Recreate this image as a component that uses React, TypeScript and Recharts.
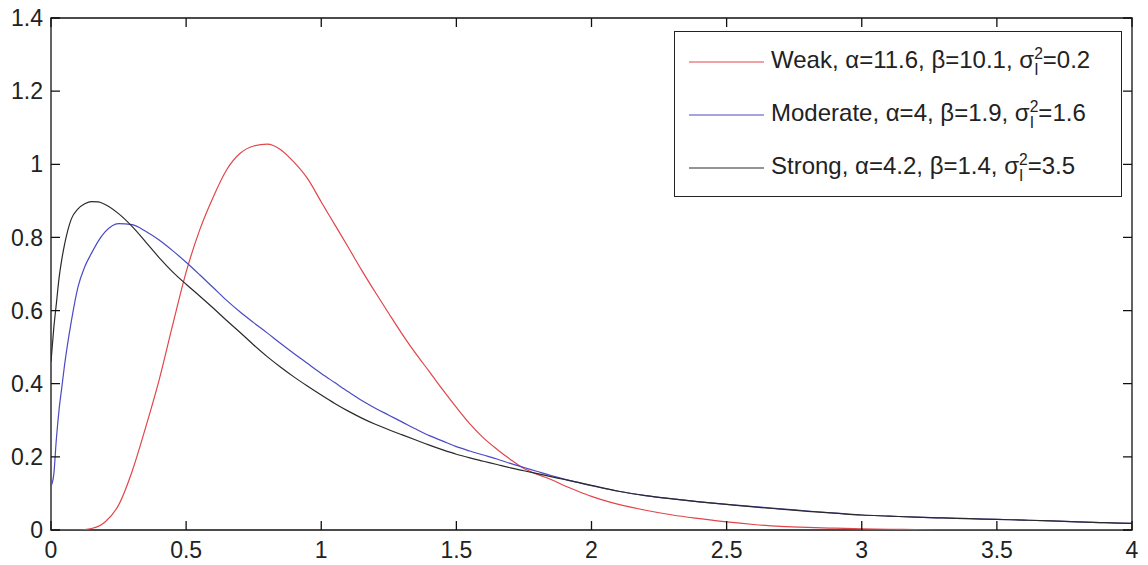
import { LineChart, Line, XAxis, YAxis, Legend, ReferenceArea } from 'recharts';

// x grid shared by all three curves
const xValues = [
  0, 0.01, 0.02, 0.03, 0.04, 0.05, 0.075, 0.1, 0.125, 0.15, 0.175, 0.2,
  0.25, 0.3, 0.35, 0.4, 0.45, 0.5, 0.55, 0.6, 0.65, 0.7,
  0.75, 0.8, 0.85, 0.9, 0.95, 1.0, 1.05, 1.1, 1.15, 1.2,
  1.25, 1.3, 1.35, 1.4, 1.45, 1.5, 1.55, 1.6, 1.65, 1.7,
  1.75, 1.8, 1.85, 1.9, 1.95, 2.0,
  2.1, 2.2, 2.3, 2.4, 2.5, 2.6, 2.7, 2.8, 2.9, 3.0,
  3.1, 3.2, 3.3, 3.4, 3.5, 3.6, 3.7, 3.8, 3.9, 4.0,
];

const weakValues = [
  0, 0, 0, 0, 0, 0, 0, 0, 0.001, 0.004, 0.01, 0.022,
  0.068, 0.16, 0.28, 0.41, 0.56, 0.705, 0.82, 0.91, 0.985, 1.03,
  1.05, 1.055, 1.04, 1.005, 0.96, 0.897, 0.835, 0.773, 0.71, 0.65,
  0.592, 0.535, 0.482, 0.433, 0.383, 0.335, 0.29, 0.252, 0.221, 0.193,
  0.168, 0.152, 0.138, 0.121, 0.106, 0.092,
  0.07, 0.054, 0.041, 0.031, 0.022, 0.015, 0.01, 0.007, 0.005, 0.003,
  0.002, 0.001, 0, 0, 0, 0, 0, 0, 0, 0,
];

const moderateValues = [
  0.12, 0.15, 0.25, 0.33, 0.39, 0.45, 0.57, 0.665, 0.72, 0.757, 0.79, 0.815,
  0.838, 0.835, 0.817, 0.793, 0.764, 0.732, 0.698, 0.663, 0.628, 0.596,
  0.567, 0.539, 0.51, 0.482, 0.455, 0.428, 0.403, 0.378, 0.354, 0.333,
  0.314, 0.295, 0.276, 0.258, 0.243, 0.228, 0.216, 0.205, 0.194, 0.182,
  0.171, 0.16, 0.149, 0.139, 0.13, 0.121,
  0.106, 0.094, 0.085, 0.077, 0.07, 0.064, 0.058, 0.052, 0.046, 0.041,
  0.038, 0.035, 0.033, 0.031, 0.029, 0.027, 0.025, 0.022, 0.02, 0.018,
];

const strongValues = [
  0.46, 0.55, 0.62, 0.69, 0.74, 0.78, 0.85, 0.878, 0.892, 0.898, 0.897, 0.89,
  0.865, 0.83, 0.788, 0.745, 0.706, 0.672, 0.64, 0.607, 0.573, 0.54,
  0.506, 0.474, 0.445, 0.418, 0.393, 0.369, 0.346, 0.325, 0.306, 0.289,
  0.274, 0.26, 0.246, 0.232, 0.219, 0.207, 0.197, 0.188, 0.179, 0.17,
  0.162, 0.154, 0.146, 0.138, 0.13, 0.122,
  0.106, 0.094, 0.085, 0.077, 0.07, 0.063, 0.057, 0.051, 0.046, 0.041,
  0.038, 0.035, 0.033, 0.031, 0.029, 0.027, 0.025, 0.022, 0.02, 0.018,
];

const xTicks = [0, 0.5, 1, 1.5, 2, 2.5, 3, 3.5, 4];
const yTicks = [0, 0.2, 0.4, 0.6, 0.8, 1, 1.2, 1.4];

const seriesNames = ['Weak', 'Moderate', 'Strong'];
const alphaValues = ['11.6', '4', '4.2'];
const betaValues = ['10.1', '1.9', '1.4'];
const sigmaValues = ['0.2', '1.6', '3.5'];
const seriesKeys = ['weak', 'moderate', 'strong'];
const seriesColors = ['#e0464a', '#4a4ac4', '#2a2a2a'];

const data = xValues.map((x, i) => ({
  x,
  weak: weakValues[i],
  moderate: moderateValues[i],
  strong: strongValues[i],
}));

const WIDTH = 1148;
const HEIGHT = 565;
const MARGIN = { top: 18, right: 16, bottom: 0, left: 0 };
const PLOT_TOP = MARGIN.top;
const PLOT_RIGHT = WIDTH - MARGIN.right;

const FONT = '"Liberation Sans", Arial, sans-serif';
const TICK_LEN = 9;
const AXIS_COLOR = '#111';
const GAP_X = 12;
const GAP_Y = 8;

// labels plus MATLAB-style inward tick marks (bottom+top, left+right)
const BottomTick = ({ x, y, payload }: any) => {
  const axisY = y - GAP_X;
  const d = `M${x},${axisY}V${axisY - TICK_LEN}M${x},${PLOT_TOP}V${PLOT_TOP + TICK_LEN}`;
  return (
    <g>
      <path d={d} stroke={AXIS_COLOR} strokeWidth={1.3} fill="none" />
      <text x={x} y={y} dy="0.71em" textAnchor="middle" fill="#222" fontSize={23} fontFamily={FONT}>
        {String(payload.value)}
      </text>
    </g>
  );
};

const LeftTick = ({ x, y, payload }: any) => {
  const axisX = x + GAP_Y;
  const d = `M${axisX},${y}H${axisX + TICK_LEN}M${PLOT_RIGHT},${y}H${PLOT_RIGHT - TICK_LEN}`;
  return (
    <g>
      <path d={d} stroke={AXIS_COLOR} strokeWidth={1.3} fill="none" />
      <text x={x} y={y} dy="0.355em" textAnchor="end" fill="#222" fontSize={23} fontFamily={FONT}>
        {String(payload.value)}
      </text>
    </g>
  );
};

const LegendBox = () => (
  <div
    style={{
      boxSizing: 'border-box',
      width: 448,
      height: 166,
      border: '1.5px solid #222',
      background: '#fff',
      paddingTop: 3,
      fontFamily: FONT,
      fontSize: 24,
      color: '#222',
    }}
  >
    {seriesNames.map((name, i) => (
      <div key={name} style={{ height: 53, display: 'flex', alignItems: 'center' }}>
        <svg width={89} height={4} style={{ marginRight: 7 }}>
          <line x1={14} y1={2} x2={89} y2={2} stroke={seriesColors[i]} strokeWidth={1.2} />
        </svg>
        <span style={{ whiteSpace: 'nowrap' }}>
          {name}, α={alphaValues[i]}, β={betaValues[i]}, σ
          <span
            style={{
              display: 'inline-flex',
              flexDirection: 'column',
              fontSize: '0.65em',
              lineHeight: 1,
              verticalAlign: 'middle',
            }}
          >
            <span>2</span>
            <span>I</span>
          </span>
          ={sigmaValues[i]}
        </span>
      </div>
    ))}
  </div>
);

export default function App() {
  return (
    <div style={{ position: 'absolute', left: 0, top: 0, background: '#fff' }}>
      <LineChart width={WIDTH} height={HEIGHT} data={data} margin={MARGIN}>
        <XAxis
          dataKey="x"
          type="number"
          domain={[0, 4]}
          ticks={xTicks}
          allowDataOverflow
          height={35}
          tickSize={0}
          tickMargin={GAP_X}
          tick={<BottomTick />}
          axisLine={false}
          tickLine={false}
        />
        <YAxis
          type="number"
          domain={[0, 1.4]}
          ticks={yTicks}
          allowDataOverflow
          width={51}
          tickSize={0}
          tickMargin={GAP_Y}
          tick={<LeftTick />}
          axisLine={false}
          tickLine={false}
        />
        {/* axes box */}
        <ReferenceArea
          x1={0}
          x2={4}
          y1={0}
          y2={1.4}
          fill="none"
          fillOpacity={0}
          stroke={AXIS_COLOR}
          strokeWidth={1.3}
          ifOverflow="visible"
        />
        <Legend
          layout="vertical"
          align="center"
          verticalAlign="middle"
          wrapperStyle={{ left: 674, top: 31, width: 448, height: 166 }}
          content={() => <LegendBox />}
        />
        {seriesKeys.map((key, i) => (
          <Line
            key={key}
            dataKey={key}
            name={seriesNames[i]}
            type="monotone"
            stroke={seriesColors[i]}
            strokeWidth={1.2}
            dot={false}
            activeDot={false}
            isAnimationActive={false}
          />
        ))}
      </LineChart>
    </div>
  );
}
